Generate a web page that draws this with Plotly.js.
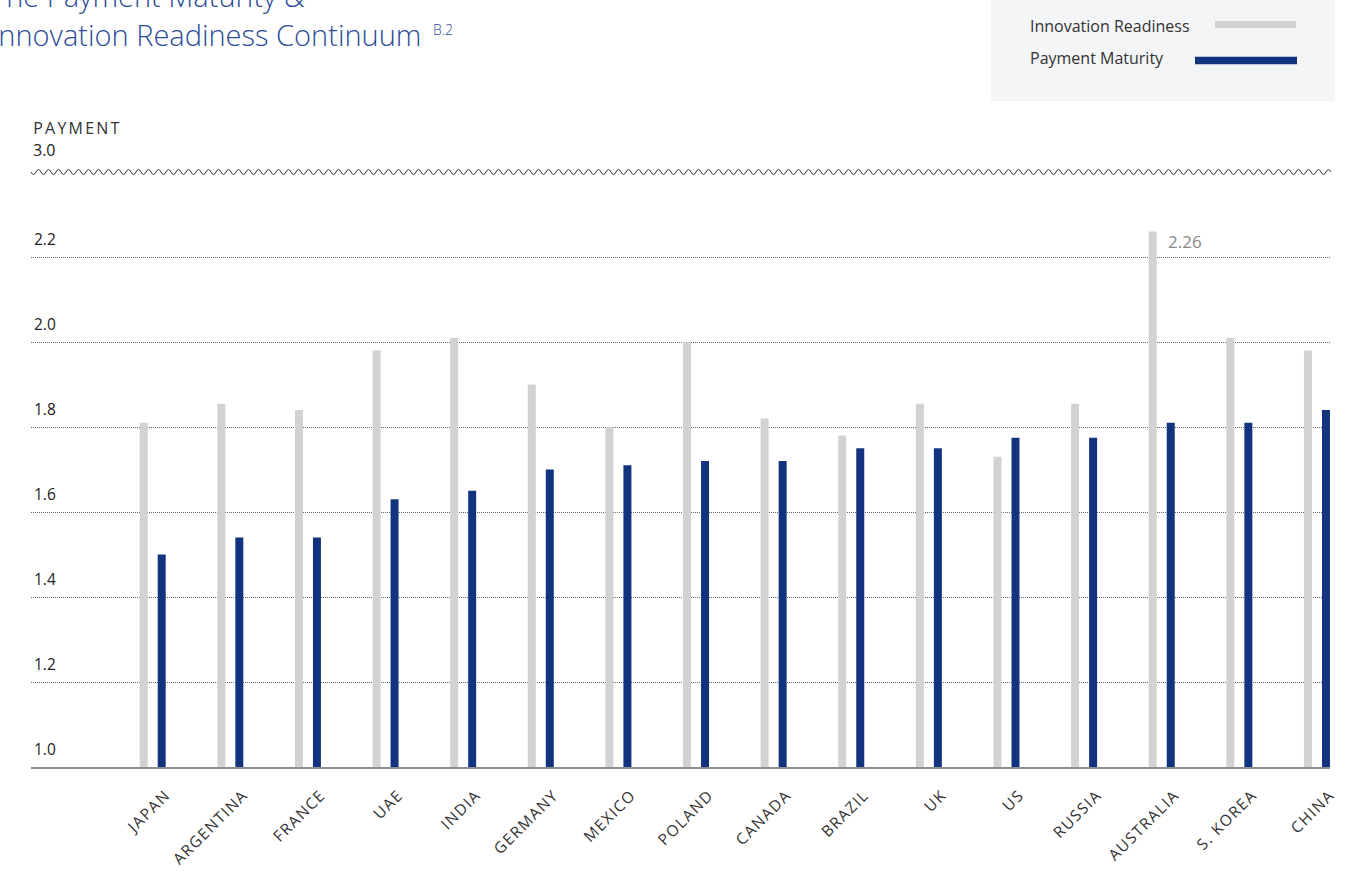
<!DOCTYPE html>
<html>
<head>
<meta charset="utf-8">
<script src="https://cdn.plot.ly/plotly-3.0.1.min.js"></script>
<style>
  html, body { margin: 0; padding: 0; background: #ffffff; }
  #chart { width: 1352px; height: 873px; }
  .xtick text { letter-spacing: 1.4px; }
  g.annotation[data-index="0"] text { letter-spacing: 2.2px; }
</style>
</head>
<body>
<div id="chart"></div>
<script>
// ---- data ----
const categories = ['JAPAN', 'ARGENTINA', 'FRANCE', 'UAE', 'INDIA', 'GERMANY', 'MEXICO', 'POLAND',
  'CANADA', 'BRAZIL', 'UK', 'US', 'RUSSIA', 'AUSTRALIA', 'S. KOREA', 'CHINA'];
const innovationReadiness = [1.81, 1.855, 1.84, 1.98, 2.01, 1.90, 1.80, 2.00,
  1.82, 1.78, 1.855, 1.73, 1.855, 2.26, 2.01, 1.98];
const paymentMaturity = [1.50, 1.54, 1.54, 1.63, 1.65, 1.70, 1.71, 1.72,
  1.72, 1.75, 1.75, 1.775, 1.775, 1.81, 1.81, 1.84];
const yTickValues = [1.0, 1.2, 1.4, 1.6, 1.8, 2.0, 2.2];
const yTickLabels = ['1.0', '1.2', '1.4', '1.6', '1.8', '2.0', '2.2'];
const seriesNames = ['Innovation Readiness', 'Payment Maturity'];
const axisTopLabel = '3.0';
const axisName = 'PAYMENT';
const titleLine1 = 'The Payment Maturity &';
const titleLine2 = 'Innovation Readiness Continuum';
const titleNote = 'B.2';

// ---- layout geometry ----
const W = 1352, H = 873;
const M = { l: 31, r: 22, t: 172, b: 106 };
const PW = W - M.l - M.r, PH = H - M.t - M.b;
const px = x => (x - M.l) / PW;          // page pixel x -> paper
const py = y => (H - M.b - y) / PH;      // page pixel y -> paper

const GREY = '#d1d2d4';
const BLUE = '#12347f';
const TITLE_BLUE = '#2c4c98';
const FONT = 'Open Sans, Noto Sans, sans-serif';

// wavy axis-break line
let wave = 'M0,0';
for (let x = 0; x < PW; x += 10) {
  wave += ` Q${x + 2.5},-5 ${x + 5},0 Q${x + 7.5},5 ${x + 10},0`;
}

const traces = [
  {
    type: 'bar', name: seriesNames[0], x: categories, y: innovationReadiness,
    marker: { color: GREY }, hoverinfo: 'x+y'
  },
  {
    type: 'bar', name: seriesNames[1], x: categories, y: paymentMaturity,
    marker: { color: BLUE }, hoverinfo: 'x+y'
  }
];

const maxIdx = innovationReadiness.indexOf(Math.max(...innovationReadiness));

const layout = {
  width: W, height: H,
  margin: M,
  paper_bgcolor: '#ffffff', plot_bgcolor: '#ffffff',
  showlegend: false,
  barmode: 'group',
  bargap: 0.536,
  bargroupgap: 0.556,
  font: { family: FONT, color: '#333333' },
  xaxis: {
    type: 'category',
    range: [-1.568, 15.168],
    showgrid: false,
    showline: true, linecolor: '#8e8e8e', linewidth: 2,
    ticks: '',
    tickangle: -45,
    tickfont: { family: FONT, size: 15.5, color: '#333333' },
    ticklabelstandoff: 11,
    ticklabelshift: 13,
    fixedrange: true
  },
  yaxis: {
    range: [1.0, 2.4],
    tickvals: yTickValues,
    ticktext: yTickLabels,
    ticklabelposition: 'inside top',
    ticklabelshift: -7,
    tickfont: { family: FONT, size: 15.5, color: '#222222' },
    showgrid: true, gridcolor: '#666666', gridwidth: 1, griddash: '1px,1px',
    zeroline: false, showline: false, ticks: '',
    fixedrange: true
  },
  shapes: [
    // legend box
    { type: 'rect', xref: 'paper', yref: 'paper', x0: px(991), x1: px(1335), y0: py(101), y1: py(-2),
      fillcolor: '#f4f5f7', line: { width: 0 }, layer: 'below' },
    { type: 'line', xref: 'paper', yref: 'paper', x0: px(1215), x1: px(1296), y0: py(24.5), y1: py(24.5),
      line: { color: GREY, width: 7 } },
    { type: 'line', xref: 'paper', yref: 'paper', x0: px(1195), x1: px(1297), y0: py(60.5), y1: py(60.5),
      line: { color: BLUE, width: 7.5 } },
    // axis break wave
    { type: 'path', xref: 'paper', yref: 'paper', xsizemode: 'pixel', ysizemode: 'pixel',
      xanchor: 0, yanchor: 1, path: wave, line: { color: '#333333', width: 1 } }
  ],
  annotations: [
    { text: axisName, xref: 'paper', yref: 'paper', x: 0, y: 1, xanchor: 'left', yanchor: 'middle',
      xshift: 8, yshift: 44, showarrow: false, font: { family: FONT, size: 16, color: '#333333' } },
    { text: axisTopLabel, xref: 'paper', yref: 'paper', x: 0, y: 1, xanchor: 'left', yanchor: 'middle',
      xshift: 0, yshift: 22, showarrow: false, font: { family: FONT, size: 16, color: '#222222' } },
    { text: innovationReadiness[maxIdx].toFixed(2), xref: 'x', yref: 'y', x: categories[maxIdx],
      y: innovationReadiness[maxIdx], xanchor: 'left', yanchor: 'top', xshift: 4, yshift: 4,
      showarrow: false, font: { family: FONT, size: 17, color: '#8a8a8a' } },
    { text: titleLine1, xref: 'paper', yref: 'paper', x: 0, y: 1, xanchor: 'left', yanchor: 'middle',
      xshift: -42, yshift: 177, showarrow: false,
      font: { family: FONT, size: 29, color: TITLE_BLUE, weight: 300 } },
    { text: titleLine2, xref: 'paper', yref: 'paper', x: 0, y: 1,
      xanchor: 'left', yanchor: 'middle', xshift: -42, yshift: 138, showarrow: false,
      font: { family: FONT, size: 29, color: TITLE_BLUE, weight: 300 } },
    { text: titleNote, xref: 'paper', yref: 'paper', x: px(431), y: py(30), xanchor: 'left', yanchor: 'middle',
      showarrow: false, font: { family: FONT, size: 14, color: TITLE_BLUE, weight: 300 } },
    { text: seriesNames[0], xref: 'paper', yref: 'paper', x: px(1028), y: py(26), xanchor: 'left',
      yanchor: 'middle', showarrow: false, font: { family: FONT, size: 16, color: '#333333' } },
    { text: seriesNames[1], xref: 'paper', yref: 'paper', x: px(1028), y: py(58), xanchor: 'left',
      yanchor: 'middle', showarrow: false, font: { family: FONT, size: 16, color: '#333333' } }
  ]
};

Plotly.newPlot('chart', traces, layout, { displayModeBar: false, staticPlot: true });
</script>
</body>
</html>
